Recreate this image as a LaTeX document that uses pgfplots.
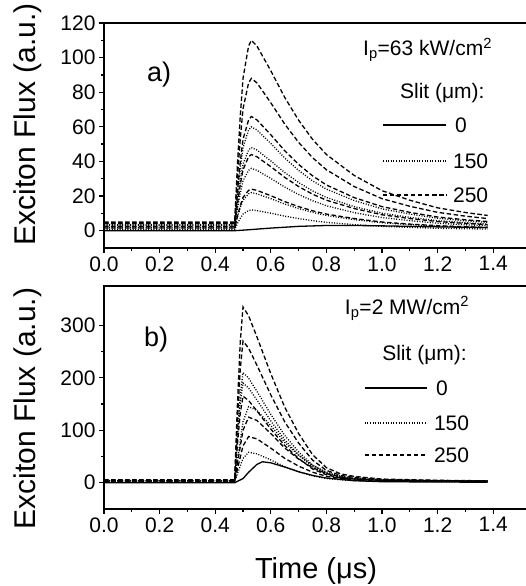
\documentclass[border=0pt]{standalone}
\usepackage{fontspec}
\setmainfont{Liberation Sans}
\usepackage{pgfplots}
\pgfplotsset{compat=1.18}
\tikzset{
 dsh/.style={black, line width=1.3pt, dash pattern=on 4.5pt off 2.5pt},
 dot/.style={black, line width=1.3pt, dash pattern=on 1pt off 1.6pt},
 sol/.style={black, line width=1.3pt}
}
\pgfplotsset{
 common/.style={
  scale only axis, width=424pt, xmin=0, xmax=1.525,
  xtick={0,0.2,0.4,0.6,0.8,1.0,1.2,1.4},
  tick align=outside, xtick pos=left, ytick pos=left,
  minor x tick num=1, minor y tick num=1,
  major tick length=5pt, minor tick length=3pt,
  axis line style={line width=1.8pt},
  every tick/.style={black, line width=1.3pt},
  tick label style={font=\fontsize{21}{24}\selectfont},
  /pgf/number format/assume math mode=true,
  xticklabel style={/pgf/number format/.cd, fixed, fixed zerofill, precision=1},
  ylabel style={at={(axis description cs:-0.179,0.5)}, anchor=center, font=\fontsize{30}{34}\selectfont},
  ylabel={Exciton Flux (a.u.)},
  clip=false
 }
}
\begin{document}
\begin{tikzpicture}[x=1pt,y=1pt]
\useasboundingbox (0,0) rectangle (526,586);
% ---------------- panel a
\begin{axis}[common, at={(104pt,338pt)}, anchor=south west, height=225pt,
  ymin=-10, ymax=120, ytick={0,20,40,60,80,100,120},
  ylabel style={at={(axis description cs:-0.179,0.55)}}]
\addplot[sol] coordinates {(0,0)(0.47,0)(0.50,0.3)(0.60,1.5)(0.70,2.5)(0.80,3)(0.90,3)(1.00,2.8)(1.20,2.2)(1.38,1.8)};
\addplot[dot] coordinates {(0,0.5)(0.47,0.5)(0.48,4.2)(0.49,7.2)(0.50,9.6)(0.52,11.6)(0.53,12)(0.55,11.6)(0.60,10.1)(0.65,8.4)(0.70,7.0)(0.75,5.8)(0.80,4.8)(0.90,3.5)(1.00,2.5)(1.10,1.9)(1.20,1.4)(1.30,1.1)(1.38,1.0)};
\addplot[dot] coordinates {(0,1)(0.47,1)(0.48,7.7)(0.49,13.2)(0.50,17.6)(0.52,21.3)(0.53,22)(0.55,21.3)(0.60,18.5)(0.65,15.4)(0.70,12.8)(0.75,10.6)(0.80,8.8)(0.90,6.4)(1.00,4.6)(1.10,3.5)(1.20,2.6)(1.30,2.1)(1.38,1.8)};
\addplot[dsh] coordinates {(0,1.5)(0.47,1.5)(0.48,8.4)(0.49,14.4)(0.50,19.2)(0.52,23.3)(0.53,24)(0.55,23.3)(0.60,20.2)(0.65,16.8)(0.70,13.9)(0.75,11.5)(0.80,9.6)(0.90,7.0)(1.00,5.0)(1.10,3.8)(1.20,2.9)(1.30,2.3)(1.38,1.9)};
\addplot[dot] coordinates {(0,2)(0.47,2)(0.48,12.6)(0.49,21.6)(0.50,28.8)(0.52,34.9)(0.53,36)(0.55,34.9)(0.60,30.2)(0.65,25.2)(0.70,20.9)(0.75,17.3)(0.80,14.4)(0.90,10.4)(1.00,7.6)(1.10,5.8)(1.20,4.3)(1.30,3.4)(1.38,2.9)};
\addplot[dsh] coordinates {(0,2.5)(0.47,2.5)(0.48,15.4)(0.49,26.4)(0.50,35.2)(0.52,42.7)(0.53,44)(0.55,42.7)(0.60,37.0)(0.65,30.8)(0.70,25.5)(0.75,21.1)(0.80,17.6)(0.90,12.8)(1.00,9.2)(1.10,7.0)(1.20,5.3)(1.30,4.2)(1.38,3.5)};
\addplot[dot] coordinates {(0,3.5)(0.47,3.5)(0.48,16.8)(0.49,28.8)(0.50,38.4)(0.52,46.6)(0.53,48)(0.55,46.6)(0.60,40.3)(0.65,33.6)(0.70,27.8)(0.75,23.0)(0.80,19.2)(0.90,13.9)(1.00,10.1)(1.10,7.7)(1.20,5.8)(1.30,4.6)(1.38,3.8)};
\addplot[dot] coordinates {(0,3)(0.47,3)(0.48,21)(0.49,36)(0.50,48)(0.52,58.2)(0.53,60)(0.55,58.2)(0.60,50.4)(0.65,42)(0.70,34.8)(0.75,28.8)(0.80,24)(0.90,17.4)(1.00,12.6)(1.10,9.6)(1.20,7.2)(1.30,5.7)(1.38,4.8)};
\addplot[dsh] coordinates {(0,4)(0.47,4)(0.48,23.1)(0.49,39.6)(0.50,52.8)(0.52,64.0)(0.53,66)(0.55,64.0)(0.60,55.4)(0.65,46.2)(0.70,38.3)(0.75,31.7)(0.80,26.4)(0.90,19.1)(1.00,13.9)(1.10,10.6)(1.20,7.9)(1.30,6.3)(1.38,5.3)};
\addplot[dsh] coordinates {(0,4.5)(0.47,4.5)(0.48,30.8)(0.49,52.8)(0.50,70.4)(0.52,85.4)(0.53,88)(0.55,85.4)(0.60,73.9)(0.65,61.6)(0.70,51.0)(0.75,42.2)(0.80,35.2)(0.90,25.5)(1.00,18.5)(1.10,14.1)(1.20,10.6)(1.30,8.4)(1.38,7.0)};
\addplot[dsh] coordinates {(0,5)(0.47,5)(0.48,38.5)(0.49,66)(0.50,88)(0.52,106.7)(0.53,110)(0.55,106.7)(0.60,92.4)(0.65,77)(0.70,63.8)(0.75,52.8)(0.80,44)(0.90,31.9)(1.00,23.1)(1.10,17.6)(1.20,13.2)(1.30,10.5)(1.38,8.8)};
% legend a
\node[anchor=west, font=\fontsize{21}{24}\selectfont] at (axis description cs:0.603,0.88) {I\textsubscript{p}=63 kW/cm\textsuperscript{2}};
\node[anchor=west, font=\fontsize{21}{24}\selectfont] at (axis description cs:0.69,0.689) {Slit (μm):};
\draw[sol] (axis description cs:0.658,0.547) -- (axis description cs:0.807,0.547);
\node[anchor=west, font=\fontsize{21}{24}\selectfont] at (axis description cs:0.82,0.547) {0};
\draw[dot] (axis description cs:0.658,0.387) -- (axis description cs:0.807,0.387);
\node[anchor=west, font=\fontsize{21}{24}\selectfont] at (axis description cs:0.815,0.387) {150};
\draw[dsh] (axis description cs:0.658,0.236) -- (axis description cs:0.807,0.236);
\node[anchor=west, font=\fontsize{21}{24}\selectfont] at (axis description cs:0.815,0.236) {250};
\node[font=\fontsize{27}{30}\selectfont] at (axis description cs:0.13,0.769) {a)};
\end{axis}
% ---------------- panel b
\begin{axis}[common, at={(104pt,77pt)}, anchor=south west, height=223pt,
  ymin=-50, ymax=375, ytick={0,100,200,300},
  ylabel style={at={(axis description cs:-0.179,0.45)}},
  xlabel={Time (μs)},
  xlabel style={font=\fontsize{29}{32}\selectfont, at={(axis description cs:0.5,-0.28)}, anchor=center}]
\addplot[sol] coordinates {(0,0)(0.47,0)(0.50,8)(0.52,20)(0.55,35)(0.57,40)(0.60,38)(0.65,30)(0.70,21)(0.75,14)(0.80,9)(0.90,4)(1.00,2)(1.38,1)};
\addplot[dot] coordinates {(0,1)(0.47,1)(0.48,17.4)(0.49,31.9)(0.50,46.4)(0.52,58)(0.55,55.1)(0.60,43.5)(0.65,30.7)(0.70,20.9)(0.75,13.3)(0.80,8.1)(0.85,5.6)(0.90,3.9)(1.00,2.7)(1.20,2.2)(1.38,2.2)};
\addplot[dsh] coordinates {(0,2)(0.47,2)(0.48,26.4)(0.49,48.4)(0.50,70.4)(0.52,88)(0.55,83.6)(0.60,66)(0.65,46.6)(0.70,31.7)(0.75,20.2)(0.80,12.3)(0.85,8.0)(0.90,5.4)(1.00,3.6)(1.20,2.8)(1.38,2.8)};
\addplot[dsh] coordinates {(0,3)(0.47,3)(0.48,37.5)(0.49,68.8)(0.50,100)(0.52,125)(0.55,118.8)(0.60,93.8)(0.65,66.3)(0.70,45)(0.75,28.8)(0.80,17.5)(0.85,11)(0.90,7.3)(1.00,4.8)(1.20,3.5)(1.38,3.5)};
\addplot[dot] coordinates {(0,4)(0.47,4)(0.48,43.5)(0.49,79.8)(0.50,116)(0.52,145)(0.55,137.8)(0.60,108.8)(0.65,76.9)(0.70,52.2)(0.75,33.4)(0.80,20.3)(0.85,12.6)(0.90,8.3)(1.00,5.4)(1.20,3.9)(1.38,3.9)};
\addplot[dsh] coordinates {(0,2.5)(0.47,2.5)(0.48,74.3)(0.49,132)(0.50,165)(0.52,156.8)(0.55,137.0)(0.60,102.3)(0.65,71.0)(0.70,46.2)(0.75,26.4)(0.80,15.2)(0.85,9.4)(0.90,7.0)(1.00,4.5)(1.20,3.3)(1.38,2.8)};
\addplot[dot] coordinates {(0,3.5)(0.47,3.5)(0.48,85.5)(0.49,152)(0.50,190)(0.52,180.5)(0.55,157.7)(0.60,117.8)(0.65,81.7)(0.70,53.2)(0.75,30.4)(0.80,17.2)(0.85,10.6)(0.90,7.7)(1.00,4.9)(1.20,3.5)(1.38,3.0)};
\addplot[dot] coordinates {(0,4.5)(0.47,4.5)(0.48,94.5)(0.49,168)(0.50,210)(0.52,199.5)(0.55,174.3)(0.60,130.2)(0.65,90.3)(0.70,58.8)(0.75,33.6)(0.80,18.8)(0.85,11.5)(0.90,8.3)(1.00,5.2)(1.20,3.7)(1.38,3.1)};
\addplot[dsh] coordinates {(0,5)(0.47,5)(0.48,121.5)(0.49,216)(0.50,270)(0.52,256.5)(0.55,224.1)(0.60,167.4)(0.65,116.1)(0.70,75.6)(0.75,43.2)(0.80,23.6)(0.85,14.2)(0.90,10.1)(1.00,6.1)(1.20,4.2)(1.38,3.4)};
\addplot[dsh] coordinates {(0,5.5)(0.47,5.5)(0.48,150.8)(0.49,268)(0.50,335)(0.52,318.3)(0.55,278.1)(0.60,207.7)(0.65,144.1)(0.70,93.8)(0.75,53.6)(0.80,28.8)(0.85,17.1)(0.90,12.1)(1.00,7.0)(1.20,4.7)(1.38,3.7)};
% legend b
\node[anchor=west, font=\fontsize{21}{24}\selectfont] at (axis description cs:0.56,0.9) {I\textsubscript{p}=2 MW/cm\textsuperscript{2}};
\node[anchor=west, font=\fontsize{21}{24}\selectfont] at (axis description cs:0.648,0.69) {Slit (μm):};
\draw[sol] (axis description cs:0.615,0.543) -- (axis description cs:0.762,0.543);
\node[anchor=west, font=\fontsize{21}{24}\selectfont] at (axis description cs:0.775,0.543) {0};
\draw[dot] (axis description cs:0.615,0.386) -- (axis description cs:0.762,0.386);
\node[anchor=west, font=\fontsize{21}{24}\selectfont] at (axis description cs:0.77,0.386) {150};
\draw[dsh] (axis description cs:0.615,0.242) -- (axis description cs:0.762,0.242);
\node[anchor=west, font=\fontsize{21}{24}\selectfont] at (axis description cs:0.77,0.242) {250};
\node[font=\fontsize{27}{30}\selectfont] at (axis description cs:0.123,0.758) {b)};
\end{axis}
\end{tikzpicture}
\end{document}
